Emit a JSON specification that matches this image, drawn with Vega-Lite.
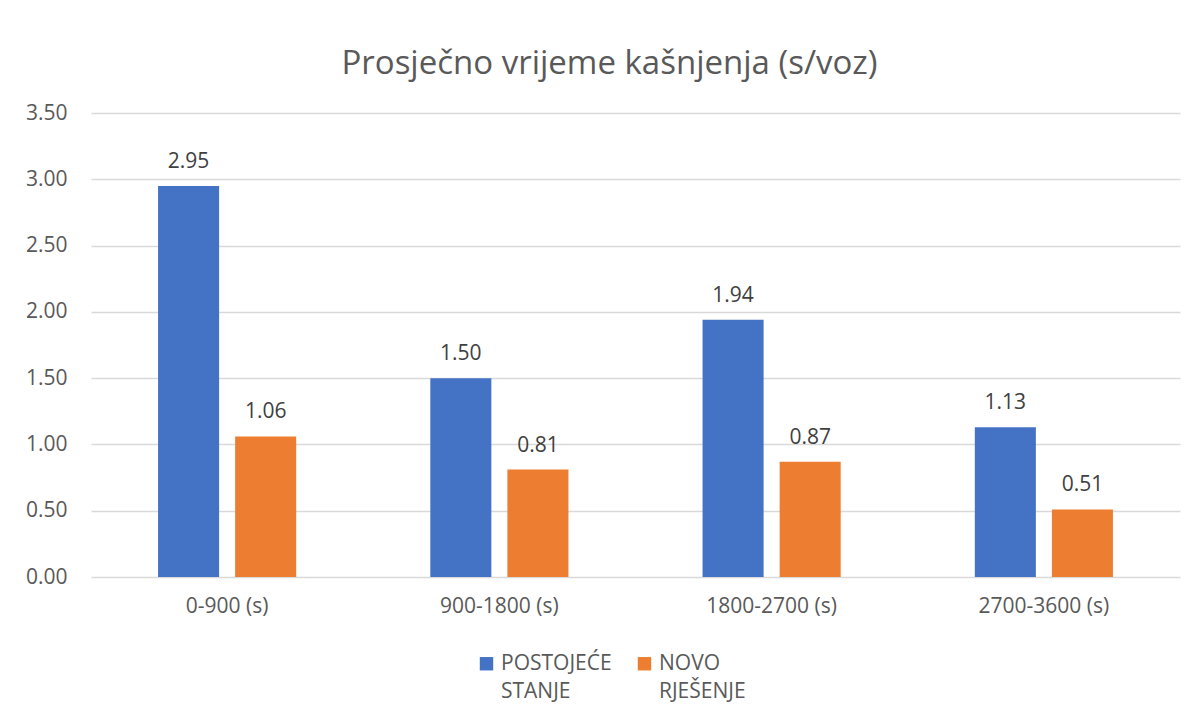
{
  "$schema": "https://vega.github.io/schema/vega-lite/v6.json",
  "width": 1089,
  "height": 464,
  "autosize": "none",
  "padding": {"left": 91, "top": 113, "right": 17, "bottom": 143},
  "background": "white",
  "config": {"font": "Open Sans", "view": {"stroke": null}, "style": {"guide-label": {"lineHeight": 28}}},
  "title": {"text": "Prosječno vrijeme kašnjenja (s/voz)", "fontSize": 33, "font": "Open Sans", "fontWeight": "normal", "color": "#595959", "anchor": "middle", "offset": 21, "dx": -26},
  "data": {"values": [
    {"interval": "0-900 (s)", "series": "POSTOJEĆE STANJE", "value": 2.95},
    {"interval": "0-900 (s)", "series": "NOVO RJEŠENJE", "value": 1.06},
    {"interval": "900-1800 (s)", "series": "POSTOJEĆE STANJE", "value": 1.50},
    {"interval": "900-1800 (s)", "series": "NOVO RJEŠENJE", "value": 0.81},
    {"interval": "1800-2700 (s)", "series": "POSTOJEĆE STANJE", "value": 1.94},
    {"interval": "1800-2700 (s)", "series": "NOVO RJEŠENJE", "value": 0.87},
    {"interval": "2700-3600 (s)", "series": "POSTOJEĆE STANJE", "value": 1.13},
    {"interval": "2700-3600 (s)", "series": "NOVO RJEŠENJE", "value": 0.51}
  ]},
  "encoding": {
    "x": {"field": "interval", "type": "nominal", "sort": ["0-900 (s)", "900-1800 (s)", "1800-2700 (s)", "2700-3600 (s)"],
      "scale": {"paddingInner": 0, "paddingOuter": 0},
      "axis": {"title": null, "labelAngle": 0, "labelFontSize": 21, "labelColor": "#595959", "labelPadding": 18, "ticks": false, "domain": false}},
    "xOffset": {"field": "series", "type": "nominal", "sort": ["POSTOJEĆE STANJE", "NOVO RJEŠENJE"],
      "scale": {"paddingInner": 0.208, "paddingOuter": 0.87}},
    "y": {"field": "value", "type": "quantitative",
      "scale": {"domain": [0, 3.5], "nice": false},
      "axis": {"title": null, "values": [0, 0.5, 1, 1.5, 2, 2.5, 3, 3.5], "format": ".2f", "labelFontSize": 21, "labelColor": "#595959", "labelPadding": 24, "ticks": false, "domain": false, "gridColor": "#d9d9d9", "gridWidth": 1.3}}
  },
  "layer": [
    {"mark": {"type": "bar"},
     "encoding": {
       "color": {"field": "series", "type": "nominal", "sort": ["POSTOJEĆE STANJE", "NOVO RJEŠENJE"],
         "scale": {"domain": ["POSTOJEĆE STANJE", "NOVO RJEŠENJE"], "range": ["#4472C4", "#ED7D31"]},
         "legend": {"orient": "none", "legendX": 385, "legendY": 540, "title": null, "direction": "horizontal", "symbolType": "square", "symbolSize": 180, "symbolStrokeWidth": 0, "labelFontSize": 21, "labelColor": "#595959", "labelExpr": "split(datum.label, ' ')", "labelLimit": 300, "columnPadding": 22}}
     }},
    {"mark": {"type": "text", "baseline": "alphabetic", "dy": -18, "fontSize": 21, "color": "#404040"},
     "encoding": {"text": {"field": "value", "type": "quantitative", "format": ".2f"}}}
  ]
}
